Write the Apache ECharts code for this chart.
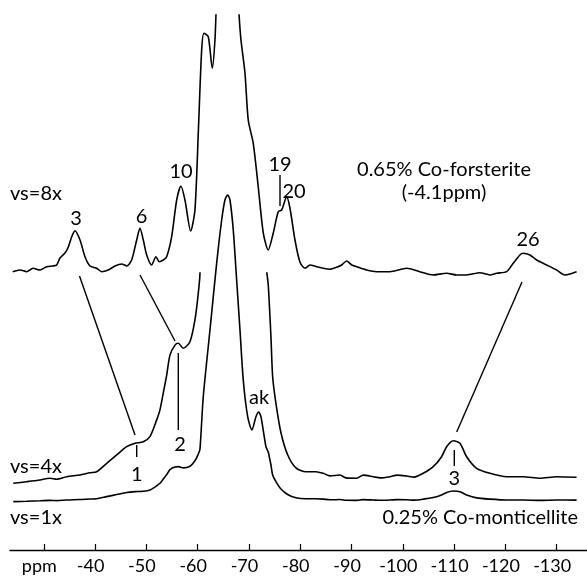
<!DOCTYPE html>
<html>
<head>
<meta charset="utf-8">
<script src="https://cdn.jsdelivr.net/npm/echarts@6/dist/echarts.min.js"></script>
<style>
html,body{margin:0;padding:0;background:#fff;}
#chart{width:587px;height:576px;}
</style>
</head>
<body>
<div id="chart"></div>
<script>
// Chemical shift positions (ppm) and intensities.
// Forsterite trace (shown at vs=8x), intensities in 1x units.
var forsteritePpm = [-23.94,-25.36,-26.67,-27.89,-29.26,-30.57,-31.79,-32.51,-33.16,-34.13,-34.78,-35.44,-36.08,-37.06,-38.03,-39.01,-40.31,-41.29,-42.57,-43.88,-45.19,-46.16,-47.13,-48.11,-48.75,-49.40,-50.06,-51.03,-51.87,-52.51,-53.29,-53.96,-54.93,-55.91,-56.74,-57.52,-58.64,-59.47,-60.12,-60.78,-61.23,-62.07,-62.85,-63.37,-63.66,-65.9,-67.95,-68.38,-69.22,-69.86,-70.84,-71.81,-72.79,-73.76,-74.74,-75.71,-76.37,-77.35,-77.99,-78.97,-79.94,-80.92,-81.89,-83.20,-84.48,-85.79,-87.10,-88.07,-89.04,-90.02,-91.0,-92.94,-94.89,-97.49,-100.74,-103.33,-105.93,-108.54,-110.49,-112.44,-115.03,-116.98,-118.28,-120.23,-121.52,-122.83,-123.47,-124.78,-126.08,-128.03,-129.98,-131.60,-132.57,-133.88];
var forsteriteIntensity = [0.54,0.75,0.54,0.96,0.75,1.16,1.25,1.38,2.25,2.88,3.63,4.91,5.66,4.5,2.41,1.25,0.96,0.54,0.75,1.25,1.5,1.25,2.0,4.5,5.96,4.5,2.63,1.38,2.41,1.79,2.0,2.41,4.91,9.5,11.25,9.5,5.63,8.25,17.88,28.25,30.34,29.91,25.96,29.5,34.5,80,34.5,29.91,25.38,19.5,16.59,11.16,5.38,3.25,5.38,8.04,8.25,9.91,8.5,4.5,1.75,0.96,1.38,1.16,0.96,0.84,1.09,1.38,1.88,1.38,1.16,0.75,0.54,0.54,0.96,0.54,0.13,0.34,0.13,0.13,0.41,0.13,0.34,0.54,1.59,2.63,2.84,2.63,2.0,1.38,0.75,0.13,0.25,0.54];

// Monticellite trace (shown at vs=1x and vs=4x), intensities in 1x units.
var monticellitePpm = [-24.05,-26.67,-29.26,-31.21,-32.51,-34.46,-37.06,-39.01,-40.31,-42.26,-44.21,-46.16,-47.78,-49.40,-50.70,-52.01,-52.65,-53.29,-53.96,-54.60,-55.58,-56.22,-57.19,-58.50,-59.47,-60.12,-60.45,-61.09,-62.40,-63.70,-64.68,-65.32,-65.85,-66.30,-66.94,-67.60,-68.25,-68.89,-69.75,-70.58,-71.36,-71.89,-72.34,-73.31,-73.76,-73.96,-74.29,-74.62,-75.26,-76.24,-77.54,-79.16,-81.11,-83.06,-84.48,-85.8,-87.74,-88.9,-91.0,-92.3,-94.23,-95.6,-97.49,-98.9,-100.74,-102.2,-103.98,-105.93,-107.56,-108.54,-109.82,-111.13,-112.44,-114.39,-116.98,-120.23,-123.47,-126.73,-129.98,-133.88];
var monticelliteIntensity = [0.35,0.75,1.18,1.6,1.35,2.0,2.43,3.0,3.25,5.35,7.43,9.5,10.35,10.75,12.0,16.2,18.7,22.9,27.4,32.4,34.9,35.35,34.1,35.75,41.2,47.85,52.85,105.3,172,238.7,282,302,307,302,272,222,172,122,85.3,72,85.3,90,85.3,55.3,50,45.35,37,27,20.35,13,7.5,4.2,3.25,3.25,2.85,2.2,2.43,1.7,1.6,2.4,2.0,1.7,2.0,2.4,2.18,1.9,2.85,4.5,7.0,9.5,11.0,10.35,7.0,4.1,2.85,2.0,2.0,1.6,2.0,1.85];

// Axis ticks
var tickValues = [-30,-40,-50,-60,-70,-80,-90,-100,-110,-120,-130];
var unitLabel = 'ppm';

function zip(xs, ys){ return xs.map(function(x,i){ return [x, ys[i]]; }); }

var FONT = 'Lato, "DejaVu Sans", sans-serif';
var xMin = -135.91, xMax = -23.41;

function hiddenX(i){
  return {type:'value', gridIndex:i, min:xMin, max:xMax, inverse:true, show:false};
}
function hiddenY(i, min, max){
  return {type:'value', gridIndex:i, min:min, max:max, show:false};
}

var chart = echarts.init(document.getElementById('chart'), null, {renderer:'canvas'});

function txt(t, x, y, align){
  return {type:'text', x:x, y:y, style:{text:t, fill:'#000', fontSize:20, fontFamily:FONT, align:align||'center', verticalAlign:'middle'}};
}
function ln(x1,y1,x2,y2){
  return {type:'line', shape:{x1:x1,y1:y1,x2:x2,y2:y2}, style:{stroke:'#000', lineWidth:1.4}};
}

var lineStyle = {color:'#000', width:1.6};

chart.setOption({
  backgroundColor:'#fff',
  animation:false,
  grid:[
    {left:10, right:0, top:0, bottom:26},     // 1x
    {left:10, right:0, top:273, bottom:26},   // 4x
    {left:10, right:0, top:15, bottom:26}     // 8x
  ],
  xAxis:[
    {type:'value', gridIndex:0, min:xMin, max:xMax, inverse:true, position:'bottom',
     axisLine:{show:true, onZero:false, lineStyle:{color:'#000', width:1.3}},
     axisTick:{show:true, inside:true, length:6, customValues:tickValues, lineStyle:{color:'#000', width:1.2}},
     axisLabel:{show:true, customValues:tickValues, color:'#000', fontSize:18, fontFamily:FONT, margin:7,
       padding:[0,9,0,0],
       formatter:function(v){ return v === -30 ? unitLabel : String(v); }},
     splitLine:{show:false}},
    hiddenX(1),
    hiddenX(2)
  ],
  yAxis:[
    hiddenY(0, -48, 502),
    hiddenY(1, 52.925 - 277/4, 52.925),
    hiddenY(2, 32.625 - 535/8, 32.625)
  ],
  series:[
    {name:'vs=1x', type:'line', xAxisIndex:0, yAxisIndex:0, data:zip(monticellitePpm, monticelliteIntensity),
     showSymbol:false, symbol:'none', smooth:0.25, lineStyle:lineStyle, clip:true},
    {name:'vs=4x', type:'line', xAxisIndex:1, yAxisIndex:1, data:zip(monticellitePpm, monticelliteIntensity),
     showSymbol:false, symbol:'none', smooth:0.25, lineStyle:lineStyle, clip:true},
    {name:'vs=8x', type:'line', xAxisIndex:2, yAxisIndex:2, data:zip(forsteritePpm, forsteriteIntensity),
     showSymbol:false, symbol:'none', smooth:0.25, lineStyle:lineStyle, clip:true}
  ],
  graphic:[
    txt('vs=8x', 10, 194, 'left'),
    txt('vs=4x', 10, 467, 'left'),
    txt('vs=1x', 10, 518, 'left'),
    txt('3', 76, 219),
    txt('6', 141.5, 217),
    txt('10', 181, 172),
    txt('19', 280, 165),
    txt('20', 294, 192),
    txt('26', 528, 240),
    txt('0.65% Co-forsterite', 444, 170),
    txt('(-4.1ppm)', 444, 193),
    txt('2', 180, 445),
    txt('1', 136.7, 475),
    txt('ak', 259, 398),
    txt('3', 454.3, 479),
    txt('0.25% Co-monticellite', 578, 518, 'right'),
    ln(79.5, 276, 135, 435),
    ln(140, 275, 175, 341),
    ln(178.3, 353, 178.3, 430),
    ln(136.7, 445, 136.7, 457),
    ln(522, 282, 456.7, 432),
    ln(454.3, 450, 454.3, 466),
    ln(280, 175, 280, 206)
  ]
});
</script>
</body>
</html>
